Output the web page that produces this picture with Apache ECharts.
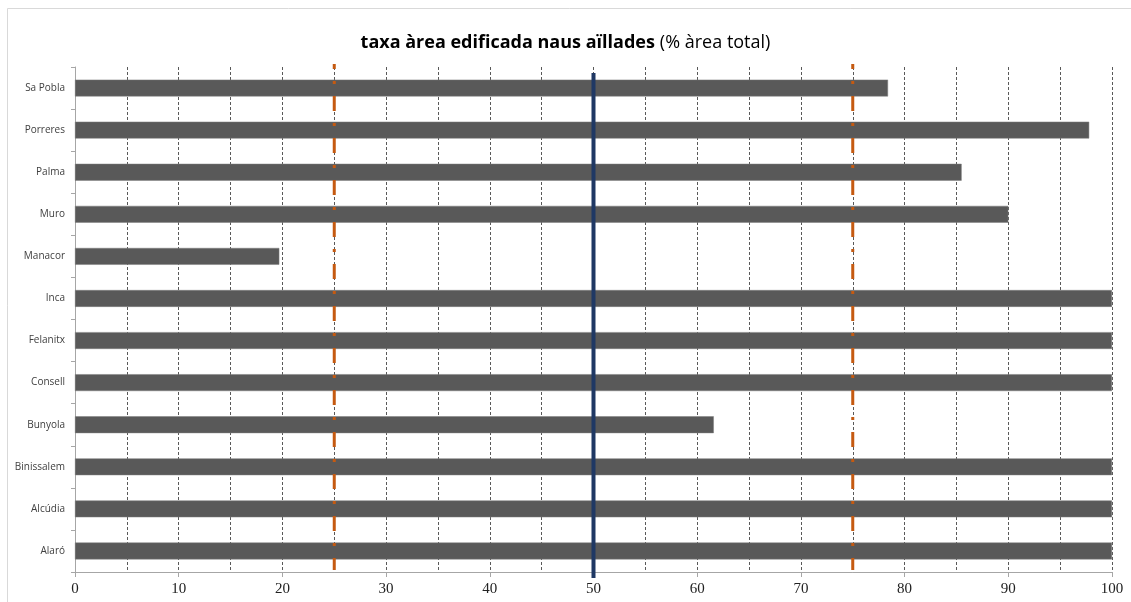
<!DOCTYPE html>
<html><head><meta charset="utf-8">
<script src="https://cdn.jsdelivr.net/npm/echarts@6/dist/echarts.min.js"></script>
<style>html,body{margin:0;padding:0;background:#fff}#c{width:1131px;height:602px}</style>
</head><body><div id="c"></div>
<script>
const categories = ['Alaró','Alcúdia','Binissalem','Bunyola','Consell','Felanitx','Inca','Manacor','Muro','Palma','Porreres','Sa Pobla'];
const values = [100,100,100,61.6,100,100,100,19.7,90.0,85.5,97.8,78.4];
const quartileLines = [25, 75];
const medianLine = 50;
const quartileExtent = [100.6, 0.4];
const medianExtent = [98.8, -1.2];
const xTicks = [0,10,20,30,40,50,60,70,80,90,100];

const chart = echarts.init(document.getElementById('c'));
const series = [{
  type: 'bar', data: values, barWidth: '40%', xAxisIndex: 0, yAxisIndex: 0,
  itemStyle: { color: '#595959', borderColor: '#7f7f7f', borderWidth: 0.5 }, silent: true, z: 2
}];
quartileLines.forEach(v => series.push({
  type: 'line', xAxisIndex: 0, yAxisIndex: 1, clip: false, symbol: 'none', silent: true, z: 3,
  data: [[v, quartileExtent[0]], [v, quartileExtent[1]]],
  lineStyle: { color: '#c55a11', width: 3, type: [15, 12, 3, 12], dashOffset: 10 }
}));
series.push({
  type: 'line', xAxisIndex: 0, yAxisIndex: 1, clip: false, symbol: 'none', silent: true, z: 4,
  data: [[medianLine, medianExtent[0]], [medianLine, medianExtent[1]]],
  lineStyle: { color: '#1f3864', width: 4, type: 'solid' }
});

chart.setOption({
  animation: false,
  backgroundColor: '#fff',
  graphic: [{ type: 'rect', shape: { x: 7.5, y: 8.5, width: 1300, height: 800 }, style: { fill: 'none', stroke: '#d9d9d9', lineWidth: 1 }, silent: true }],
  title: {
    left: 'center', top: 29,
    text: '{b|taxa àrea edificada naus aïllades} {n|(% àrea total)}',
    textStyle: { rich: {
      b: { fontFamily: 'Open Sans', fontWeight: 'bold', fontSize: 18, color: '#000' },
      n: { fontFamily: 'Open Sans', fontWeight: 'normal', fontSize: 18, color: '#000' }
    } }
  },
  grid: { left: 75, right: 19, top: 67, bottom: 30, containLabel: false },
  xAxis: {
    type: 'value', min: 0, max: 100, interval: 10,
    axisLine: { show: true, lineStyle: { color: '#a6a6a6', width: 1 } },
    axisTick: { show: true, length: 5, lineStyle: { color: '#a6a6a6' } },
    axisLabel: { color: '#222', fontFamily: 'Liberation Serif', fontSize: 15, margin: 10,
      formatter: v => xTicks.includes(v) ? String(v) : '' },
    splitLine: { show: true, lineStyle: { color: '#595959', type: [3, 2], width: 1 } },
    minorTick: { show: false, splitNumber: 2 },
    minorSplitLine: { show: true, lineStyle: { color: '#595959', type: [3, 2], width: 1 } }
  },
  yAxis: [{
    type: 'category', data: categories,
    axisLine: { show: true, lineStyle: { color: '#a6a6a6' } },
    axisTick: { show: true, length: 4, lineStyle: { color: '#a6a6a6' } },
    axisLabel: { color: '#404040', fontFamily: 'Open Sans', fontSize: 10, margin: 10 },
    splitLine: { show: false }
  }, {
    type: 'value', min: 0, max: 100, show: false
  }],
  series: series
});
</script></body></html>
